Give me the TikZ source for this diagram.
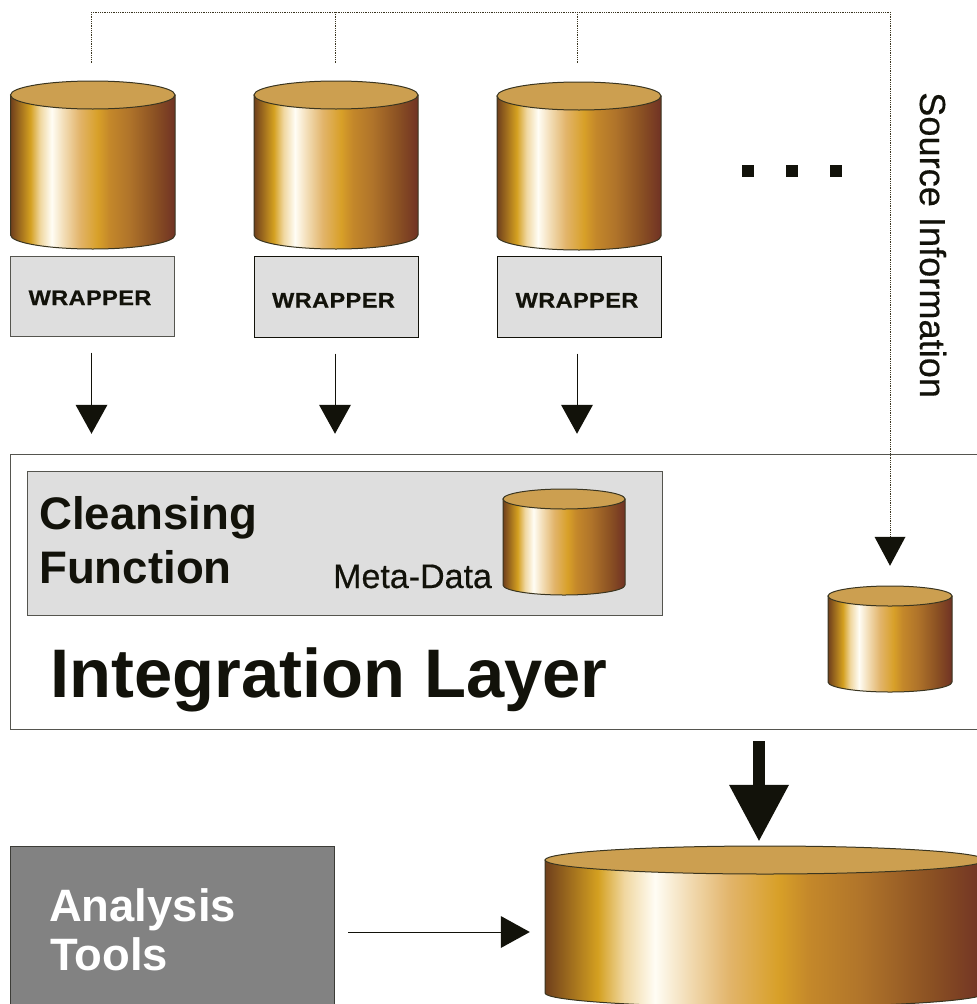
\documentclass[tikz,border=0pt]{standalone}
\usepackage{fontspec}
\setmainfont{Liberation Sans}
\newfontfamily\wrapfont[FakeStretch=1.12,LetterSpace=2,FakeBold=0.6]{Liberation Sans Bold}
\newfontfamily\srcfont[FakeBold=0.4]{Liberation Sans}
\usetikzlibrary{arrows.meta}
\definecolor{ink}{HTML}{12120A}
\definecolor{rim}{HTML}{3A3520}
\definecolor{lid}{HTML}{CC9F50}
\definecolor{panel}{HTML}{DEDEDE}
\definecolor{edgegray}{HTML}{55554F}
\definecolor{toolgray}{HTML}{828282}
\pgfdeclarehorizontalshading{goldbarrel}{100bp}{%
 rgb(0bp)=(0.435,0.247,0.110);
 rgb(25bp)=(0.435,0.247,0.110);
 rgb(31bp)=(0.831,0.627,0.125);
 rgb(34bp)=(0.941,0.843,0.627);
 rgb(37.5bp)=(1,0.992,0.961);
 rgb(41bp)=(0.953,0.871,0.722);
 rgb(46bp)=(0.886,0.706,0.416);
 rgb(51.5bp)=(0.847,0.627,0.157);
 rgb(55bp)=(0.769,0.533,0.165);
 rgb(61bp)=(0.690,0.455,0.165);
 rgb(69bp)=(0.541,0.314,0.137);
 rgb(75bp)=(0.439,0.196,0.141);
 rgb(100bp)=(0.439,0.196,0.141)}
\tikzset{
  x=1pt,y=-1pt,
  wrapbox/.style={draw=edgegray,fill=panel,line width=1pt,rectangle,inner sep=0pt},
  holder/.style={rectangle,inner sep=0pt},
  wraptext/.style={anchor=base,inner sep=0pt,text=ink,font=\wrapfont\fontsize{21}{24}\selectfont},
  label/.style={anchor=base west,inner sep=0pt,text=ink},
  flow/.style={draw=ink,line width=1pt,-{Triangle[width=32pt,length=29pt,fill=ink,line width=0pt]}},
  dotline/.style={draw=rim,line width=0.8pt,densely dotted},
  dotarrow/.style={dotline,-{Triangle[width=31pt,length=29pt,fill=ink,ink,line width=0pt]}},
}
% name, centre x, half width, top, bottom, lid radius
\newcommand{\barrel}[6]{%
  \pgfmathsetmacro{\bcy}{(#4+#5)/2}%
  \pgfmathsetmacro{\bh}{#5-#4}%
  \pgfmathsetmacro{\bw}{2*#3}%
  \pgfmathsetmacro{\blid}{#4+#6}%
  \pgfmathsetmacro{\bfoot}{#5-#6}%
  \pgfmathsetmacro{\bleft}{#2-#3}%
  \pgfmathsetmacro{\bright}{#2+#3}%
  \node[holder,minimum width=\bw pt,minimum height=\bh pt] (#1) at (#2,\bcy) {};
  \path[draw=rim,line width=1pt,shading=goldbarrel,shading angle=0]
    (\bleft,\blid) -- (\bleft,\bfoot)
    arc[start angle=180,end angle=360,x radius=#3pt,y radius=#6pt]
    -- (\bright,\blid) -- cycle;
  \draw[rim,line width=1pt,fill=lid] (#2,\blid) ellipse[x radius=#3pt,y radius=#6pt];
}
\begin{document}
\begin{tikzpicture}
\clip (0,0) rectangle (977,1004);
\fill[white] (0,0) rectangle (977,1004);

% integration layer frame and inner panel
\node[draw=edgegray,fill=white,line width=1pt,holder,minimum width=980pt,minimum height=275pt] (integ) at (500.5,591.75) {};
\node[wrapbox,minimum width=635pt,minimum height=144pt] (cleanse) at (344.5,543) {};

% sources
\barrel{db1}{92.75}{82.25}{81}{249}{14}
\barrel{db2}{336}{82}{81}{249}{14}
\barrel{db3}{579}{82}{82}{250}{14}
\barrel{meta}{564}{61}{489}{595}{10}
\barrel{repo}{890}{62}{586}{692}{10}
\barrel{store}{765}{220}{846}{1007}{14}

% wrappers
\node[wrapbox,minimum width=164pt,minimum height=80pt] (w1) at (92.5,296) {};
\node[wrapbox,draw=ink,minimum width=164pt,minimum height=81pt] (w2) at (336,296.5) {};
\node[wrapbox,draw=ink,minimum width=164pt,minimum height=81pt] (w3) at (579,296.5) {};
\node[wraptext] (t1) at (90,305) {WRAPPER};
\node[wraptext] (t2) at (333.5,307.5) {WRAPPER};
\node[wraptext] (t3) at (577,307.5) {WRAPPER};

% ellipsis
\node[fill=ink,minimum size=12pt,inner sep=0pt] (d1) at (747.5,171) {};
\node[fill=ink,minimum size=12pt,inner sep=0pt] (d2) at (791.5,171) {};
\node[fill=ink,minimum size=12pt,inner sep=0pt] (d3) at (835.5,171) {};

% tools
\node[holder,fill=toolgray,draw=edgegray!70!black,line width=1pt,minimum width=324pt,minimum height=160pt] (tools) at (172.5,926) {};
\node[label,text=white,font=\bfseries\fontsize{45.4}{50}\selectfont] (t4) at (49,921.5) {Analysis};
\node[label,text=white,font=\bfseries\fontsize{45.4}{50}\selectfont] (t5) at (50,970.5) {Tools};

% text
\node[label,font=\bfseries\fontsize{45.6}{50}\selectfont] (c1) at (39,529) {Cleansing};
\node[label,font=\bfseries\fontsize{45.6}{50}\selectfont] (c2) at (39,583) {Function};
\node[label,font=\srcfont\fontsize{34}{38}\selectfont] (c3) at (333,588) {Meta-Data};
\node[label,font=\bfseries\fontsize{68.7}{72}\selectfont] (c4) at (50,697) {Integration Layer};
\node[label,rotate=-90,font=\srcfont\fontsize{36.2}{40}\selectfont] (c5) at (920,92) {Source Information};

% flows from wrappers
\draw[flow,shorten <=16pt,shorten >=20pt] ([xshift=-1pt]w1.south) -- ([xshift=-1pt]w1.south |- integ.north);
\draw[flow,shorten <=16pt,shorten >=20pt] ([xshift=-1pt]w2.south) -- ([xshift=-1pt]w2.south |- integ.north);
\draw[flow,shorten <=16pt,shorten >=20pt] ([xshift=-2pt]w3.south) -- ([xshift=-2pt]w3.south |- integ.north);

% source information bus
\coordinate (busa) at (91,12);
\coordinate (busb) at (890,12);
\coordinate (busc) at (335,12);
\coordinate (busd) at (577,12);
\draw[dotline] (busa) -- (busb);
\draw[dotline,shorten >=18pt] (busa) -- (busa |- db1.north);
\draw[dotline,shorten >=18pt] (busc) -- (busc |- db2.north);
\draw[dotline,shorten >=19pt] (busd) -- (busd |- db3.north);
\draw[dotarrow,shorten >=20pt] (busb) -- (repo.north);

% thick arrow to the warehouse
\coordinate (thick) at (759,741);
\draw[draw=ink,line width=12.5pt,-{Triangle[width=60pt,length=56pt,fill=ink,line width=0pt]},shorten >=5pt] (thick) -- (thick |- store.north);

% tools to warehouse
\draw[flow,shorten <=13pt,shorten >=15pt] (tools.east |- 0,932) -- (store.west |- 0,932);
\end{tikzpicture}
\end{document}
